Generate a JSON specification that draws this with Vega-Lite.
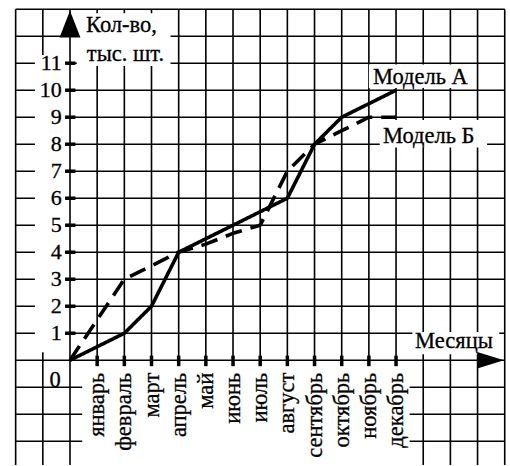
{
  "$schema": "https://vega.github.io/schema/vega-lite/v6.json",
  "width": 510,
  "height": 466,
  "autosize": {"type": "fit", "contains": "padding"},
  "padding": 0,
  "background": "white",
  "config": {"view": {"stroke": null}, "axis": {"disable": true}},
  "datasets": {
    "series": [
      {"m": 0, "model": "А", "v": 0}, {"m": 1, "model": "А", "v": 0.5}, {"m": 2, "model": "А", "v": 1},
      {"m": 3, "model": "А", "v": 2}, {"m": 4, "model": "А", "v": 4}, {"m": 5, "model": "А", "v": 4.5},
      {"m": 6, "model": "А", "v": 5}, {"m": 7, "model": "А", "v": 5.5}, {"m": 8, "model": "А", "v": 6},
      {"m": 9, "model": "А", "v": 8}, {"m": 10, "model": "А", "v": 9}, {"m": 11, "model": "А", "v": 9.5},
      {"m": 12, "model": "А", "v": 10},
      {"m": 0, "model": "Б", "v": 0}, {"m": 1, "model": "Б", "v": 1.5}, {"m": 2, "model": "Б", "v": 3},
      {"m": 3, "model": "Б", "v": 3.5}, {"m": 4, "model": "Б", "v": 4}, {"m": 5, "model": "Б", "v": 4.3},
      {"m": 6, "model": "Б", "v": 4.7}, {"m": 7, "model": "Б", "v": 5}, {"m": 8, "model": "Б", "v": 7},
      {"m": 9, "model": "Б", "v": 8}, {"m": 10, "model": "Б", "v": 8.5}, {"m": 11, "model": "Б", "v": 9},
      {"m": 12, "model": "Б", "v": 9}
    ],
    "months": [
      {"m": 1, "name": "январь"}, {"m": 2, "name": "февраль"}, {"m": 3, "name": "март"},
      {"m": 4, "name": "апрель"}, {"m": 5, "name": "май"}, {"m": 6, "name": "июнь"},
      {"m": 7, "name": "июль"}, {"m": 8, "name": "август"}, {"m": 9, "name": "сентябрь"},
      {"m": 10, "name": "октябрь"}, {"m": 11, "name": "ноябрь"}, {"m": 12, "name": "декабрь"}
    ],
    "vgrid": [
      {"g": -2}, {"g": -1}, {"g": 0}, {"g": 1}, {"g": 2}, {"g": 3}, {"g": 4}, {"g": 5}, {"g": 6}, {"g": 7},
      {"g": 8}, {"g": 9}, {"g": 10}, {"g": 11}, {"g": 12}, {"g": 13}, {"g": 14}, {"g": 15}, {"g": 16}
    ],
    "hgrid": [
      {"g": -3}, {"g": -2}, {"g": -1}, {"g": 0}, {"g": 1}, {"g": 2}, {"g": 3}, {"g": 4}, {"g": 5}, {"g": 6},
      {"g": 7}, {"g": 8}, {"g": 9}, {"g": 10}, {"g": 11}, {"g": 12}, {"g": 13}
    ],
    "yticks": [
      {"v": 1}, {"v": 2}, {"v": 3}, {"v": 4}, {"v": 5}, {"v": 6}, {"v": 7}, {"v": 8}, {"v": 9}, {"v": 10}, {"v": 11}
    ],
    "arrows": [
      {"ax": 0, "ay": 12.45, "dir": "up"},
      {"ax": 15.48, "ay": 0, "dir": "right"}
    ]
  },
  "layer": [
    {
      "data": {"name": "vgrid"},
      "mark": {"type": "rule", "color": "black", "strokeWidth": 1.6},
      "encoding": {
        "x": {"field": "g", "type": "quantitative", "scale": {"domain": [-2.576, 16.194], "nice": false, "zero": false}},
        "y": {"datum": 13, "type": "quantitative", "scale": {"domain": [-3.88, 13.341], "nice": false, "zero": false}},
        "y2": {"datum": -3.88}
      }
    },
    {
      "data": {"name": "hgrid"},
      "mark": {"type": "rule", "color": "black", "strokeWidth": 1.6},
      "encoding": {
        "y": {"field": "g", "type": "quantitative", "scale": {"domain": [-3.88, 13.341], "nice": false, "zero": false}},
        "x": {"datum": -2, "type": "quantitative", "scale": {"domain": [-2.576, 16.194], "nice": false, "zero": false}},
        "x2": {"datum": 16}
      }
    },
    {
      "data": {"values": [
        {"x1": 0.25, "x2": 3.7, "y1": 10.9, "y2": 12.85},
        {"x1": 11.0, "x2": 14.6, "y1": 10.08, "y2": 10.95},
        {"x1": 11.4, "x2": 15.35, "y1": 7.88, "y2": 8.9},
        {"x1": 12.6, "x2": 15.8, "y1": 0.22, "y2": 1.05},
        {"x1": -1.29, "x2": -0.18, "y1": 0.3, "y2": 11.3},
        {"x1": 0.45, "x2": 12.5, "y1": -0.12, "y2": -3.88}
      ]},
      "mark": {"type": "rect", "color": "white"},
      "encoding": {
        "x": {"field": "x1", "type": "quantitative", "scale": {"domain": [-2.576, 16.194], "nice": false, "zero": false}},
        "x2": {"field": "x2"},
        "y": {"field": "y1", "type": "quantitative", "scale": {"domain": [-3.88, 13.341], "nice": false, "zero": false}},
        "y2": {"field": "y2"}
      }
    },
    {
      "mark": {"type": "rule", "color": "black", "strokeWidth": 3},
      "encoding": {
        "x": {"datum": 0, "type": "quantitative", "scale": {"domain": [-2.576, 16.194], "nice": false, "zero": false}},
        "y": {"datum": -3.88, "type": "quantitative", "scale": {"domain": [-3.88, 13.341], "nice": false, "zero": false}},
        "y2": {"datum": 12.3}
      }
    },
    {
      "mark": {"type": "rule", "color": "black", "strokeWidth": 3},
      "encoding": {
        "y": {"datum": 0, "type": "quantitative", "scale": {"domain": [-3.88, 13.341], "nice": false, "zero": false}},
        "x": {"datum": -2, "type": "quantitative", "scale": {"domain": [-2.576, 16.194], "nice": false, "zero": false}},
        "x2": {"datum": 15.3}
      }
    },
    {
      "data": {"name": "yticks"},
      "mark": {"type": "rule", "color": "black", "strokeWidth": 3.5},
      "encoding": {
        "y": {"field": "v", "type": "quantitative", "scale": {"domain": [-3.88, 13.341], "nice": false, "zero": false}},
        "x": {"datum": -0.18, "type": "quantitative", "scale": {"domain": [-2.576, 16.194], "nice": false, "zero": false}},
        "x2": {"datum": 0.2}
      }
    },
    {
      "data": {"name": "months"},
      "mark": {"type": "rule", "color": "black", "strokeWidth": 3.5},
      "encoding": {
        "x": {"field": "m", "type": "quantitative", "scale": {"domain": [-2.576, 16.194], "nice": false, "zero": false}},
        "y": {"datum": -0.22, "type": "quantitative", "scale": {"domain": [-3.88, 13.341], "nice": false, "zero": false}},
        "y2": {"datum": 0.17}
      }
    },
    {
      "data": {"name": "series"},
      "mark": {"type": "line", "color": "black", "strokeWidth": 3.6, "strokeCap": "butt", "strokeJoin": "round"},
      "encoding": {
        "x": {"field": "m", "type": "quantitative", "scale": {"domain": [-2.576, 16.194], "nice": false, "zero": false}},
        "y": {"field": "v", "type": "quantitative", "scale": {"domain": [-3.88, 13.341], "nice": false, "zero": false}},
        "detail": {"field": "model"},
        "strokeDash": {"field": "model", "type": "nominal", "scale": {"domain": ["А", "Б"], "range": [[1, 0], [17, 9]]}, "legend": null}
      }
    },
    {
      "data": {"name": "arrows"},
      "mark": {"type": "point", "filled": true, "fill": "black", "stroke": null, "opacity": 1, "size": 720},
      "encoding": {
        "x": {"field": "ax", "type": "quantitative", "scale": {"domain": [-2.576, 16.194], "nice": false, "zero": false}},
        "y": {"field": "ay", "type": "quantitative", "scale": {"domain": [-3.88, 13.341], "nice": false, "zero": false}},
        "shape": {"field": "dir", "type": "nominal", "scale": {"domain": ["up", "right"], "range": ["M0,-1L0.78,1L-0.78,1Z", "M1,0L-1,-0.62L-1,0.62Z"]}, "legend": null}
      }
    },
    {
      "data": {"name": "months"},
      "mark": {"type": "text", "font": "Liberation Serif", "fontSize": 22.5, "angle": 270, "align": "right", "baseline": "middle", "color": "black", "stroke": "black", "strokeWidth": 0.3},
      "encoding": {
        "x": {"field": "m", "type": "quantitative", "scale": {"domain": [-2.576, 16.194], "nice": false, "zero": false}},
        "y": {"datum": -0.46, "type": "quantitative", "scale": {"domain": [-3.88, 13.341], "nice": false, "zero": false}},
        "text": {"field": "name"}
      }
    },
    {
      "data": {"name": "yticks"},
      "mark": {"type": "text", "font": "Liberation Serif", "fontSize": 22, "align": "right", "baseline": "middle", "color": "black", "stroke": "black", "strokeWidth": 0.3},
      "encoding": {
        "y": {"field": "v", "type": "quantitative", "scale": {"domain": [-3.88, 13.341], "nice": false, "zero": false}},
        "x": {"datum": -0.3, "type": "quantitative", "scale": {"domain": [-2.576, 16.194], "nice": false, "zero": false}},
        "text": {"field": "v"}
      }
    },
    {
      "data": {"values": [
        {"t": "Кол-во,", "x": 0.59, "y": 12.16},
        {"t": "тыс. шт.", "x": 0.62, "y": 11.08},
        {"t": "Модель А", "x": 11.15, "y": 10.24},
        {"t": "Модель Б", "x": 11.52, "y": 8.04},
        {"t": "Месяцы", "x": 12.7, "y": 0.45},
        {"t": "0", "x": -0.75, "y": -0.98}
      ]},
      "mark": {"type": "text", "font": "Liberation Serif", "fontSize": 22.5, "align": "left", "baseline": "alphabetic", "color": "black", "stroke": "black", "strokeWidth": 0.3},
      "encoding": {
        "x": {"field": "x", "type": "quantitative", "scale": {"domain": [-2.576, 16.194], "nice": false, "zero": false}},
        "y": {"field": "y", "type": "quantitative", "scale": {"domain": [-3.88, 13.341], "nice": false, "zero": false}},
        "text": {"field": "t"}
      }
    }
  ]
}
